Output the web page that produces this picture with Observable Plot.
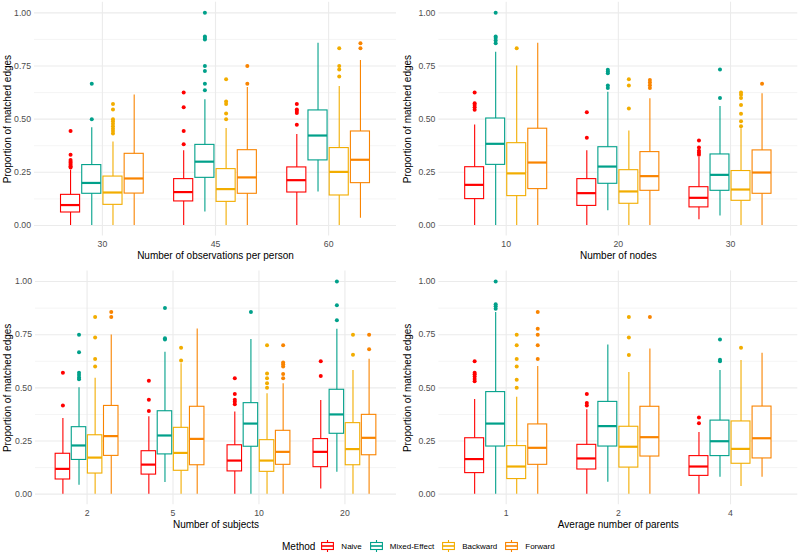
<!DOCTYPE html>
<html><head><meta charset="utf-8">
<script src="https://cdn.jsdelivr.net/npm/d3@7"></script>
<script src="https://cdn.jsdelivr.net/npm/@observablehq/plot@0.6"></script>
<style>
body{margin:0;background:#fff;}
#chart{position:relative;width:800px;height:556px;font-family:"Liberation Sans",Arial,Helvetica,sans-serif;overflow:hidden;}
.panel{position:absolute;}
#legend{position:absolute;left:282px;top:538px;height:16px;display:flex;align-items:center;color:#000;}
#legend .title{font-size:10px;margin-right:6px;}
#legend .key{margin-right:7px;display:block;}
#legend .lab{font-size:8px;margin-right:8px;}
</style></head>
<body>
<div id="chart"></div>
<script>
const methods = ["Naive", "Mixed-Effect", "Backward", "Forward"];
const colors = ["#FF0000", "#00A08A", "#F2AD00", "#F98400"];
const majorTicks = [0, 0.25, 0.5, 0.75, 1];
const minorTicks = [0.125, 0.375, 0.625, 0.875];
const yTitle = "Proportion of matched edges";

// stats per level, per method: [lower whisker, Q1, median, Q3, upper whisker]
const obsLevels = ["30", "45", "60"];
const obsStats = [
  [[0,0.061,0.096,0.144,0.26],[0,0.149,0.2,0.284,0.46],[0,0.097,0.155,0.23,0.393],[0,0.15,0.221,0.337,0.614]],
  [[0,0.113,0.157,0.218,0.351],[0.063,0.224,0.3,0.379,0.591],[0,0.111,0.171,0.265,0.456],[0,0.149,0.226,0.354,0.649]],
  [[0,0.155,0.213,0.273,0.428],[0.157,0.306,0.423,0.541,0.857],[0,0.141,0.252,0.364,0.654],[0.034,0.199,0.309,0.442,0.776]]
];
const obsOutliers = [
  [[0.444,0.333,0.308,0.3,0.294,0.286,0.278,0.273],[0.667,0.5],[0.571,0.545,0.5,0.49,0.478,0.467,0.455,0.444,0.433],[]],
  [[0.382,0.444,0.556,0.625],[0.636,0.667,0.727,0.75,0.875,0.882,0.889,1.0],[0.5,0.526,0.571,0.583,0.688],[0.667,0.75]],
  [[0.474,0.529,0.538,0.545,0.571],[],[0.7,0.733,0.75,0.833],[0.833,0.857]]
];

const nodeLevels = ["10", "20", "30"];
const nodeStats = [
  [[0,0.124,0.191,0.274,0.472],[0,0.285,0.384,0.503,0.815],[0,0.138,0.245,0.387,0.75],[0,0.171,0.296,0.455,0.857]],
  [[0,0.092,0.152,0.218,0.351],[0.069,0.196,0.277,0.368,0.627],[0,0.102,0.16,0.26,0.444],[0,0.163,0.232,0.345,0.596]],
  [[0.027,0.085,0.13,0.18,0.32],[0.044,0.163,0.238,0.334,0.56],[0,0.116,0.169,0.256,0.455],[0,0.149,0.249,0.353,0.619]]
];
const nodeOutliers = [
  [[0.544,0.556,0.567,0.575,0.625],[0.857,0.87,0.882,0.889,1.0],[0.833],[]],
  [[0.412,0.533],[0.647,0.658,0.716,0.724,0.732],[0.55,0.658,0.688],[0.647,0.66,0.672,0.684]],
  [[0.333,0.342,0.351,0.367,0.4],[0.6,0.733],[0.467,0.49,0.525,0.567,0.6,0.615,0.625],[0.667]]
];

const subjLevels = ["2", "5", "10", "20"];
const subjStats = [
  [[0,0.069,0.119,0.19,0.356],[0.042,0.161,0.229,0.315,0.5],[0,0.097,0.172,0.277,0.545],[0,0.18,0.273,0.415,0.749]],
  [[0,0.092,0.139,0.202,0.364],[0.055,0.187,0.276,0.39,0.668],[0,0.11,0.194,0.312,0.613],[0,0.136,0.26,0.411,0.777]],
  [[0,0.107,0.158,0.23,0.386],[0,0.223,0.332,0.428,0.727],[0,0.105,0.158,0.254,0.472],[0,0.138,0.199,0.298,0.519]],
  [[0.024,0.127,0.199,0.259,0.44],[0.103,0.284,0.375,0.491,0.776],[0,0.136,0.212,0.334,0.582],[0,0.183,0.265,0.373,0.635]]
];
const subjOutliers = [
  [[0.417,0.571],[0.541,0.549,0.561,0.571,0.667,0.75],[0.6,0.636,0.737,0.833],[0.833,0.857]],
  [[0.391,0.444,0.533],[0.727,0.733,0.875],[0.629,0.688],[]],
  [[0.423,0.435,0.444,0.471,0.545],[0.857],[0.5,0.522,0.545,0.567,0.7],[0.545,0.565,0.6,0.611,0.619,0.7]],
  [[0.556,0.625],[0.818,0.889,1.0],[0.656,0.75],[0.682,0.75]]
];

const parLevels = ["1", "2", "4"];
const parStats = [
  [[0,0.099,0.165,0.263,0.445],[0,0.224,0.332,0.48,0.854],[0,0.071,0.13,0.226,0.456],[0,0.138,0.218,0.328,0.6]],
  [[0,0.116,0.168,0.232,0.397],[0.056,0.224,0.32,0.434,0.702],[0,0.125,0.223,0.317,0.572],[0,0.177,0.268,0.411,0.683]],
  [[0,0.086,0.13,0.179,0.29],[0.08,0.179,0.249,0.346,0.582],[0.036,0.143,0.213,0.342,0.629],[0.08,0.168,0.263,0.412,0.663]]
];
const parOutliers = [
  [[0.531,0.542,0.553,0.564,0.571,0.625],[0.872,0.884,0.893,1.0],[0.5,0.538,0.6,0.636,0.7,0.75],[0.636,0.7,0.75,0.778,0.857]],
  [[0.417,0.429,0.471],[],[0.655,0.737,0.833],[0.833]],
  [[0.333,0.36],[0.625,0.632,0.727],[0.688],[]]
];

const FONT = '"Liberation Sans", Arial, Helvetica, sans-serif';
// ggplot-style dodge: 0.75 of a category unit shared by the 4 methods, boxes 90% of their slot
const DODGE = 0.75 / methods.length;
const HALF = DODGE * 0.9 / 2;

function makePanel(levels, stats, outliers, xTitle, m) {
  const rows = [];
  const outs = [];
  const idx = levels.map((d, i) => i);
  levels.forEach((lv, i) => methods.forEach((me, j) => {
    const s = stats[i][j];
    const cx = i + (j - (methods.length - 1) / 2) * DODGE;
    rows.push({level: lv, method: me, cx, x1: cx - HALF, x2: cx + HALF,
               lo: s[0], q1: s[1], med: s[2], q3: s[3], hi: s[4]});
    outliers[i][j].forEach(v => outs.push({level: lv, method: me, cx, value: v}));
  }));
  return Plot.plot({
    width: 400, height: m.height,
    marginLeft: m.left, marginRight: m.right, marginTop: m.top, marginBottom: m.bottom,
    style: {fontFamily: FONT, background: "transparent", overflow: "visible"},
    x: {type: "linear", domain: [-0.6, levels.length - 1 + 0.6], axis: null},
    y: {domain: [-0.05, 1.05], axis: null},
    color: {domain: methods, range: colors},
    marks: [
      Plot.ruleY(minorTicks, {stroke: "#EBEBEB", strokeWidth: 0.55}),
      Plot.ruleY(majorTicks, {stroke: "#EBEBEB", strokeWidth: 1.1}),
      Plot.ruleX(idx, {stroke: "#EBEBEB", strokeWidth: 1.1}),
      Plot.axisY({ticks: majorTicks, tickSize: 0, tickPadding: 3.5, tickFormat: d3.format(".2f"), fontSize: 8.7, color: "#4D4D4D", label: null}),
      Plot.axisX({ticks: idx, tickFormat: i => levels[i], tickSize: 0, tickPadding: 5, fontSize: 8.7, color: "#4D4D4D", label: null}),
      Plot.ruleX(rows, {x: "cx", y1: "lo", y2: "hi", stroke: "method", strokeWidth: 1.1}),
      Plot.rectY(rows, {x1: "x1", x2: "x2", y1: "q1", y2: "q3", fill: "white", stroke: "method", strokeWidth: 1.1}),
      Plot.ruleY(rows, {x1: "x1", x2: "x2", y: "med", stroke: "method", strokeWidth: 2.2}),
      Plot.dot(outs, {x: "cx", y: "value", fill: "method", r: 2}),
      Plot.text([xTitle], {text: d => d, frameAnchor: "bottom", dy: 19.5, lineAnchor: "middle", textAnchor: "middle", fontSize: 10, fill: "black"}),
      Plot.text([yTitle], {text: d => d, frameAnchor: "left", dx: -(m.left - 7), rotate: -90, lineAnchor: "middle", textAnchor: "middle", fontSize: 10, fill: "black"})
    ]
  });
}

const chart = document.getElementById("chart");
function place(el, left, top) {
  el.classList.add("panel");
  el.style.left = left + "px";
  el.style.top = top + "px";
  chart.appendChild(el);
}
place(makePanel(obsLevels, obsStats, obsOutliers, "Number of observations per person",
  {height: 262, left: 34, right: 4, top: 1.7, bottom: 26.4}), 0, 0);
place(makePanel(nodeLevels, nodeStats, nodeOutliers, "Number of nodes",
  {height: 262, left: 38.4, right: 2.7, top: 1.7, bottom: 26.4}), 400, 0);
place(makePanel(subjLevels, subjStats, subjOutliers, "Number of subjects",
  {height: 274, left: 35, right: 4, top: 8.4, bottom: 31.7}), 0, 262);
place(makePanel(parLevels, parStats, parOutliers, "Average number of parents",
  {height: 274, left: 38.4, right: 2.7, top: 8.4, bottom: 31.7}), 400, 262);

// legend
const legend = document.createElement("div");
legend.id = "legend";
const t = document.createElement("span");
t.className = "title";
t.textContent = "Method";
legend.appendChild(t);
const ns = "http://www.w3.org/2000/svg";
methods.forEach((me, i) => {
  const svg = document.createElementNS(ns, "svg");
  svg.setAttribute("width", 13); svg.setAttribute("height", 12);
  svg.setAttribute("class", "key");
  const c = colors[i];
  svg.innerHTML = `<line x1="6.5" x2="6.5" y1="0" y2="12" stroke="${c}" stroke-width="1.1"/>` +
    `<rect x="0.6" y="2.5" width="11.8" height="7" fill="white" stroke="${c}" stroke-width="1.1"/>` +
    `<line x1="0.6" x2="12.4" y1="6" y2="6" stroke="${c}" stroke-width="1.6"/>`;
  legend.appendChild(svg);
  const l = document.createElement("span");
  l.className = "lab";
  l.textContent = me;
  legend.appendChild(l);
});
chart.appendChild(legend);
</script>
</body></html>
